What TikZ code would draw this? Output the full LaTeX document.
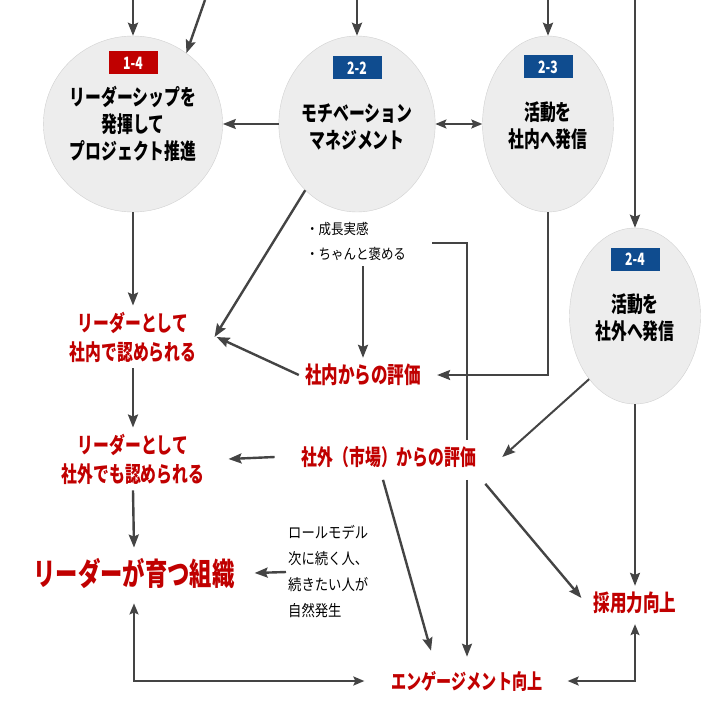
\documentclass[tikz,border=0pt]{standalone}
\usepackage{fontspec}
\setmainfont{Noto Sans CJK JP}[FakeStretch=0.72]
\newfontfamily\memofont{Noto Sans CJK JP}[FakeStretch=0.86]
\usetikzlibrary{shapes.geometric,arrows.meta}
\definecolor{ldrred}{HTML}{C00000}
\definecolor{ldrblue}{HTML}{0F4C8F}
\definecolor{ldrfill}{HTML}{EDEDED}
\definecolor{ldredge}{HTML}{D0D0D0}
\definecolor{ldrline}{HTML}{444444}

\begin{document}
\begin{tikzpicture}[x=1pt,y=-1pt,
  bub/.style={ellipse,draw=ldredge,fill=ldrfill,minimum width=131pt,minimum height=176pt,inner sep=0pt,align=center,font=\bfseries\fontsize{22}{27}\selectfont},
  tag/.style={fill=#1,text=white,minimum width=49pt,minimum height=23pt,inner sep=0pt,font=\bfseries\fontsize{17}{17}\selectfont},
  res/.style={text=ldrred,align=center,inner sep=6pt,font=\bfseries\fontsize{22}{29}\selectfont},
  memo/.style={align=left,inner sep=0pt,font=\memofont\fontsize{14.5}{25}\selectfont},
  arr/.style={draw=ldrline,line width=2.4pt,-{Stealth[length=13pt,width=10pt,inset=2pt]}},
  twin/.style={draw=ldrline,line width=1.8pt,{Stealth[length=11pt,width=9pt,inset=2pt]}-{Stealth[length=11pt,width=9pt,inset=2pt]}}]
\useasboundingbox (0,0) rectangle (714,714);
\node[bub] (p14) at (133,124) {リーダーシップを\\発揮して\\プロジェクト推進};
\node[bub] (p22) at (357,124) {\\[-4pt]モチベーション\\マネジメント};
\node[bub] (p23) at (548,124) {\\[-4pt]活動を\\社内へ発信};
\node[bub] (p24) at (635,316) {\\[-4pt]活動を\\社外へ発信};
\node[tag=ldrred] (b14) at (133,63) {1-4};
\node[tag=ldrblue] (b22) at (357,68) {2-2};
\node[tag=ldrblue] (b23) at (548,67) {2-3};
\node[tag=ldrblue] (b24) at (635,259) {2-4};
\node[res] (in1) at (133,337) {リーダーとして\\社内で認められる};
\node[res] (in2) at (133,459) {リーダーとして\\社外でも認められる};
\node[res,font=\bfseries\fontsize{31}{31}\selectfont] (org) at (134,573) {リーダーが育つ組織};
\node[res,font=\bfseries\fontsize{23}{23}\selectfont] (shanai) at (363,375) {社内からの評価};
\node[res] (shagai) at (389,457) {社外（市場）からの評価};
\node[res,font=\bfseries\fontsize{23}{23}\selectfont] (saiyo) at (635,603) {採用力向上};
\node[res,font=\bfseries\fontsize{21}{21}\selectfont] (engage) at (467,681) {エンゲージメント向上};
\node[memo,anchor=west] (homeru) at (306,241) {・成長実感\\・ちゃんと褒める};
\node[memo,anchor=west,font=\memofont\fontsize{15.5}{26}\selectfont] (role) at (288,572) {ロールモデル\\次に続く人、\\続きたい人が\\自然発生};
\coordinate (t14) at (133,0);
\coordinate (t14b) at (205,0);
\coordinate (t22) at (357,0);
\coordinate (t23) at (548,0);
\coordinate (t24) at (635,0);
\coordinate (brk) at (432,243);
\coordinate (brc) at (467,243);
\draw[arr] (t14) -- (p14.north);
\draw[arr] (t14b) -- (p14.53);
\draw[arr] (t22) -- (p22.north);
\draw[arr] (t23) -- (p23.north);
\draw[arr] (t24) -- (p24.north);
\draw[arr,line width=2pt] (p22.west) -- (p14.east);
\draw[twin,line width=2pt] (p22.east) -- (p23.west);
\draw[arr] (p14.south) -- (in1.north);
\draw[arr] (in1.south) -- (in2.north);
\draw[arr] (in2.south) -- ([yshift=4pt]org.north);
\draw[arr] (p22.232) -- ([xshift=12pt]in1.east);
\draw[arr] (shanai.west) -- ([xshift=14pt]in1.east);
\draw[arr] (homeru.south -| shanai.north) ++(0,6) -- (shanai.north);
\draw[arr,line width=2pt] (p23.south) |- ([xshift=10pt]shanai.east);
\draw[draw=ldrline,line width=2pt] (brk) -- (brc) -- (brc |- shagai.north);
\draw[arr,line width=2pt] ([yshift=-6pt]brc |- shagai.south) -- ([yshift=8pt]brc |- engage.north);
\draw[arr] ([xshift=-21pt]shagai.west) -- ([xshift=18pt]in2.east);
\draw[arr,line width=2pt] (p24.234) -- ([xshift=20pt]shagai.east);
\draw[arr,line width=2pt] (p24.south) -- (saiyo.north);
\draw[arr] ([shift={(3,10)}]shagai.south east) -- ([shift={(-6,-5)}]saiyo.west);
\draw[arr] ([shift={(-6,6)}]shagai.south) -- ([shift={(-36,-14)}]engage.north);
\draw[twin] ([xshift=19pt]engage.east) -| ([yshift=-4pt]saiyo.south);
\draw[twin,line width=2.2pt] ([yshift=-9pt]org.south) |- ([xshift=-21pt]engage.west);
\draw[arr] ([xshift=-2pt]role.west) -- ([xshift=14pt]org.east);
\end{tikzpicture}
\end{document}
